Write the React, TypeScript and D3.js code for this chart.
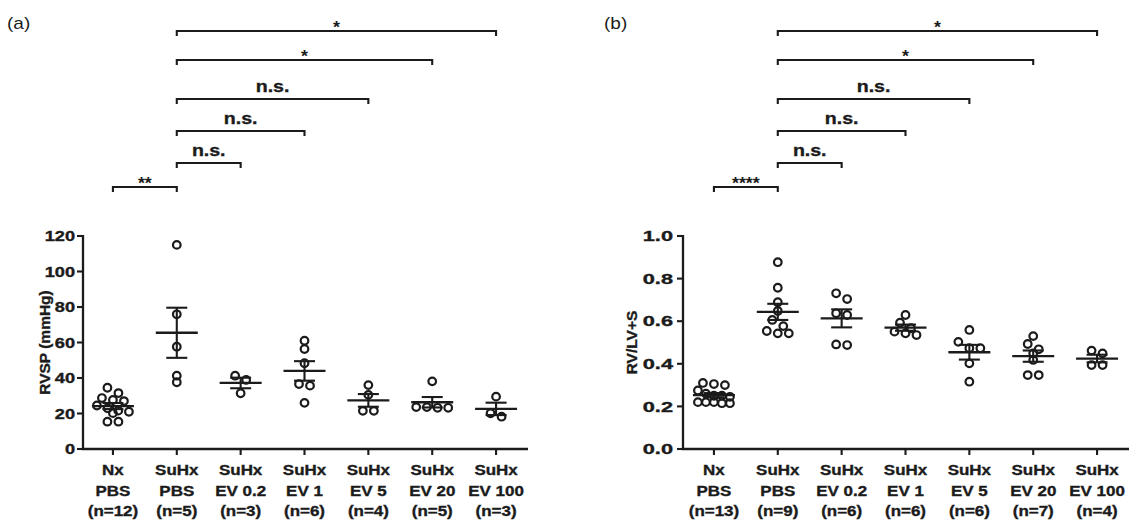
import React from "react";
import * as d3 from "d3";

const FONT = "'Liberation Sans', Arial, Helvetica, sans-serif";
const INK = "#1b1b1b";

// ---------- data ----------
const groupTop = ["Nx", "SuHx", "SuHx", "SuHx", "SuHx", "SuHx", "SuHx"];
const groupBottom = ["PBS", "PBS", "EV 0.2", "EV 1", "EV 5", "EV 20", "EV 100"];
const nLabelsA = ["(n=12)", "(n=5)", "(n=3)", "(n=6)", "(n=4)", "(n=5)", "(n=3)"];
const nLabelsB = ["(n=13)", "(n=9)", "(n=6)", "(n=6)", "(n=6)", "(n=7)", "(n=4)"];

const rvspNxPbs = [34.5, 31.5, 28.7, 27.6, 27.0, 24.5, 23.0, 21.6, 21.0, 20.2, 15.4, 15.4];
const rvspSuhxPbs = [115, 75.9, 57.6, 41.3, 37.6];
const rvspEv02 = [41.3, 38.9, 31.4];
const rvspEv1 = [61, 56.3, 48.3, 36.6, 35.7, 26];
const rvspEv5 = [36, 30.5, 21.5, 21.5];
const rvspEv20 = [38.1, 23.6, 23.2, 23.2, 23.6];
const rvspEv100 = [29.5, 20.1, 18.2];

const ratioNxPbs = [0.31, 0.3, 0.305, 0.275, 0.26, 0.25, 0.245, 0.25, 0.22, 0.215, 0.215, 0.22, 0.22];
const ratioSuhxPbs = [0.877, 0.757, 0.689, 0.648, 0.606, 0.577, 0.554, 0.543, 0.543];
const ratioEv02 = [0.731, 0.704, 0.637, 0.629, 0.491, 0.488];
const ratioEv1 = [0.629, 0.593, 0.567, 0.551, 0.543, 0.535];
const ratioEv5 = [0.559, 0.503, 0.473, 0.473, 0.402, 0.316];
const ratioEv20 = [0.53, 0.493, 0.468, 0.449, 0.418, 0.347, 0.347];
const ratioEv100 = [0.462, 0.449, 0.394, 0.394];

const rvspTicks = [0, 20, 40, 60, 80, 100, 120];
const ratioTicks = [0, 0.2, 0.4, 0.6, 0.8, 1.0];

const comparisonFrom = [0, 1, 1, 1, 1, 1];
const comparisonTo = [1, 2, 3, 4, 5, 6];
const comparisonLabelsA = ["**", "n.s.", "n.s.", "n.s.", "*", "*"];
const comparisonLabelsB = ["****", "n.s.", "n.s.", "n.s.", "*", "*"];

// ---------- layout ----------
const W = 1129;
const H = 520;
const Y0 = 449;
const YTOP = 236;
const bracketY = [187, 163, 131, 99, 60, 31];

type TProps = {
  x: number; y: number; size: number; children: React.ReactNode;
  weight?: string; anchor?: string; sx?: number; rot?: number; thick?: number;
};
const T = ({ x, y, size, children, weight = "bold", anchor = "middle", sx = 1.15, rot = 0, thick = 0.35 }: TProps) => (
  <text
    transform={`translate(${x},${y}) scale(${sx},1)${rot ? ` rotate(${rot})` : ""}`}
    fontSize={size}
    fontWeight={weight}
    textAnchor={anchor as any}
    fontFamily={FONT}
    fill={INK}
    stroke={INK}
    strokeWidth={thick}
  >
    {children}
  </text>
);

function swarm(ys: number[], maxSpacing: number, maxWidth: number, thresh: number): number[] {
  const idx = ys.map((_, i) => i).sort((a, b) => ys[a] - ys[b]);
  const out = new Array(ys.length).fill(0);
  let row: number[] = [];
  const flush = () => {
    const n = row.length;
    const sp = n > 1 ? Math.min(maxSpacing, maxWidth / (n - 1)) : 0;
    row.forEach((k, j) => (out[k] = (j - (n - 1) / 2) * sp));
    row = [];
  };
  idx.forEach((k) => {
    if (row.length && ys[k] - ys[row[0]] > thresh) flush();
    row.push(k);
  });
  flush();
  return out;
}

type PanelProps = {
  label: string; labelX: number; axisX: number; xRange: [number, number];
  yMax: number; ticks: number[]; fmt: (v: number) => string;
  title: string; titleX: number; groups: number[][]; nLabels: string[];
  compLabels: string[]; tickSize: number; tickSx: number; tickGap: number;
};

function Panel(p: PanelProps) {
  const x = d3.scalePoint<number>().domain(d3.range(7)).range(p.xRange).padding(0.5);
  const y = d3.scaleLinear().domain([0, p.yMax]).range([Y0, YTOP]);
  const sw = 2.1;
  return (
    <g>
      <T x={p.labelX} y={29} size={17} weight="normal" anchor="start" sx={1.12} thick={0}>{p.label}</T>

      {/* brackets */}
      {comparisonFrom.map((f, i) => {
        const x1 = x(f)!, x2 = x(comparisonTo[i])!, yy = bracketY[i];
        const lab = p.compLabels[i];
        const isStar = lab.startsWith("*");
        return (
          <g key={"b" + i}>
            <path d={`M${x1},${yy + 5}V${yy}H${x2}V${yy + 5}`} fill="none" stroke={INK} strokeWidth={sw} />
            {isStar ? (
              <T x={(x1 + x2) / 2} y={yy + 1.5} size={17} weight="bold" sx={1.05} thick={0}>{lab}</T>
            ) : (
              <T x={(x1 + x2) / 2} y={yy - 7} size={17} weight="bold" sx={1.15}>{lab}</T>
            )}
          </g>
        );
      })}

      {/* y axis */}
      <line x1={p.axisX} x2={p.axisX} y1={YTOP - 1} y2={Y0 + 1} stroke={INK} strokeWidth={2.3} />
      {p.ticks.map((t) => (
        <g key={"yt" + t}>
          <line x1={p.axisX - 6} x2={p.axisX} y1={y(t)} y2={y(t)} stroke={INK} strokeWidth={2.1} />
          <T x={p.axisX - p.tickGap} y={y(t) + p.tickSize * 0.36} size={p.tickSize} anchor="end" sx={p.tickSx}>{p.fmt(t)}</T>
        </g>
      ))}
      <T x={p.titleX} y={(Y0 + YTOP) / 2} size={15.5} rot={-90} sx={1.0}>{p.title}</T>

      {/* x axis */}
      <line x1={p.axisX - 1} x2={p.xRange[1]} y1={Y0} y2={Y0} stroke={INK} strokeWidth={2.3} />
      {d3.range(7).map((i) => (
        <g key={"xt" + i}>
          <line x1={x(i)!} x2={x(i)!} y1={Y0} y2={Y0 + 6} stroke={INK} strokeWidth={2.1} />
          <T x={x(i)!} y={475} size={14.5} sx={1.17}>{groupTop[i]}</T>
          <T x={x(i)!} y={495.5} size={14.5} sx={1.17}>{groupBottom[i]}</T>
          <T x={x(i)!} y={515.5} size={14.5} sx={1.17}>{p.nLabels[i]}</T>
        </g>
      ))}

      {/* points + mean ± SEM */}
      {p.groups.map((vals, gi) => {
        const cx = x(gi)!;
        const ys = vals.map((v) => y(v));
        const offs = swarm(ys, 11, 32, 6.5);
        const m = d3.mean(vals)!;
        const sem = d3.deviation(vals)! / Math.sqrt(vals.length);
        return (
          <g key={"g" + gi}>
            {vals.map((v, k) => (
              <circle key={k} cx={cx + offs[k]} cy={y(v)} r={3.8} fill="none" stroke={INK} strokeWidth={2.2} />
            ))}
            <line x1={cx - 21} x2={cx + 21} y1={y(m)} y2={y(m)} stroke={INK} strokeWidth={2.3} />
            <line x1={cx} x2={cx} y1={y(m + sem)} y2={y(m - sem)} stroke={INK} strokeWidth={2.1} />
            <line x1={cx - 10.5} x2={cx + 10.5} y1={y(m + sem)} y2={y(m + sem)} stroke={INK} strokeWidth={2.1} />
            <line x1={cx - 10.5} x2={cx + 10.5} y1={y(m - sem)} y2={y(m - sem)} stroke={INK} strokeWidth={2.1} />
          </g>
        );
      })}
    </g>
  );
}

export default function App() {
  const rvspGroups = [rvspNxPbs, rvspSuhxPbs, rvspEv02, rvspEv1, rvspEv5, rvspEv20, rvspEv100];
  const ratioGroups = [ratioNxPbs, ratioSuhxPbs, ratioEv02, ratioEv1, ratioEv5, ratioEv20, ratioEv100];
  return (
    <svg
      width={W}
      height={H}
      viewBox={`0 0 ${W} ${H}`}
      style={{ position: "absolute", left: 0, top: 0, display: "block", background: "#fff" }}
    >
      <rect width={W} height={H} fill="#fff" />
      <Panel
        label="(a)" labelX={7} axisX={83} xRange={[81, 528]} yMax={120}
        ticks={rvspTicks} fmt={d3.format("d")} title="RVSP (mmHg)" titleX={50}
        groups={rvspGroups} nLabels={nLabelsA} compLabels={comparisonLabelsA}
        tickSize={14} tickSx={1.3} tickGap={8}
      />
      <Panel
        label="(b)" labelX={604} axisX={683} xRange={[682, 1129]} yMax={1}
        ticks={ratioTicks} fmt={d3.format(".1f")} title="RV/LV+S" titleX={637}
        groups={ratioGroups} nLabels={nLabelsB} compLabels={comparisonLabelsB}
        tickSize={14.5} tickSx={1.5} tickGap={10}
      />
    </svg>
  );
}
